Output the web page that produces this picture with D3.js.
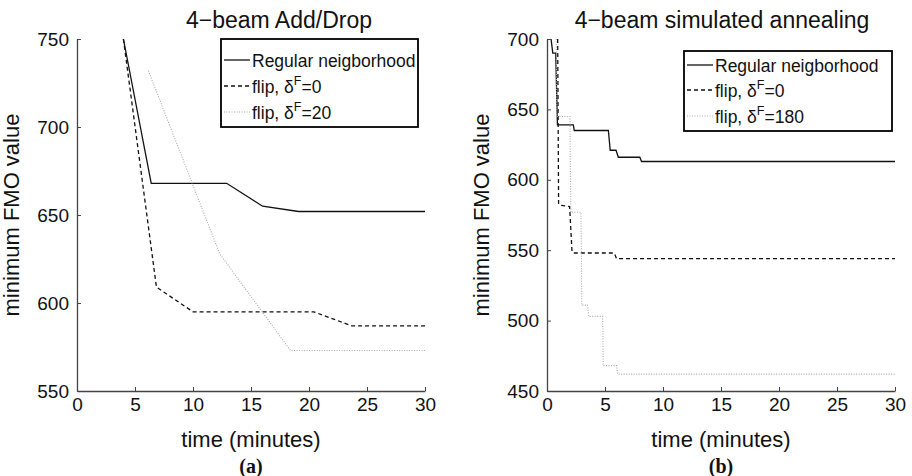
<!DOCTYPE html>
<html><head><meta charset="utf-8">
<script src="https://cdn.jsdelivr.net/npm/d3@7/dist/d3.min.js"></script>
<style>
body{margin:0;background:#fff;}
svg{display:block;font-family:"Liberation Sans",Arial,sans-serif;}
</style></head>
<body><svg id="c" width="912" height="476"></svg>
<script>
// ---- data ----
const xTicks = [0,5,10,15,20,25,30];
const leftYTicks = [550,600,650,700,750];
const rightYTicks = [450,500,550,600,650,700];
const leftTitle = "4\u2212beam Add/Drop";
const rightTitle = "4\u2212beam simulated annealing";
const yLabel = "minimum FMO value";
const xLabel = "time (minutes)";
const panelLabels = ["(a)","(b)"];
const legendMain = "Regular neigborhood";
const leftDeltas = ["0","20"];
const rightDeltas = ["0","180"];

// left: Add/Drop
const adRegularT = [4, 6.4, 12.9, 16.0, 19.1, 30];
const adRegularV = [750, 668, 668, 655, 652, 652];
const adFlip0T = [4, 6.85, 10.0, 20.4, 23.7, 30];
const adFlip0V = [750, 609, 595, 595, 587, 587];
const adFlip20T = [6.15, 12.3, 18.4, 30];
const adFlip20V = [732, 628, 573, 573];

// right: simulated annealing
const saRegularT = [0.35, 0.5, 0.75, 0.9, 2.27, 2.35, 5.29, 5.45, 5.95, 6.15, 8.0, 8.15, 30];
const saRegularV = [700, 690, 690, 639, 639, 635, 635, 621, 621, 616, 616, 613, 613];
const saFlip0T = [0.92, 1.0, 1.1, 1.95, 2.15, 2.25, 5.8, 6.0, 30];
const saFlip0V = [700, 583, 582, 581, 550, 548, 548, 544, 544];
const saFlip180T = [0.8, 0.85, 1.98, 2.05, 2.93, 3.0, 3.5, 3.6, 4.8, 4.85, 6.0, 6.1, 30];
const saFlip180V = [700, 645, 645, 577, 577, 511, 511, 503, 503, 468, 468, 462, 462];

const styles = [
  {stroke:"#111", dash:null, width:1.3},
  {stroke:"#111", dash:"4,3", width:1.3},
  {stroke:"#aaa", dash:"1,1.5", width:1.1}
];

const svg = d3.select("#c");

function panel(opt){
  const x = d3.scaleLinear().domain([0,30]).range([opt.x0, opt.x0+348]);
  const y = d3.scaleLinear().domain(opt.yDom).range([391, 39]);
  const g = svg.append("g");
  const line = d3.line().x(d=>x(d[0])).y(d=>y(d[1]));
  opt.series.forEach((s,i)=>{
    const pts = s.t.map((t,j)=>[t, s.v[j]]);
    g.append("path").attr("d", line(pts)).attr("fill","none")
      .attr("stroke", styles[i].stroke).attr("stroke-width", styles[i].width)
      .attr("stroke-dasharray", styles[i].dash);
  });
  // axes
  const ax = g.append("g").attr("transform",`translate(0,391)`)
    .call(d3.axisBottom(x).tickValues(xTicks).tickSizeInner(-4).tickSizeOuter(0).tickPadding(7));
  const ay = g.append("g").attr("transform",`translate(${opt.x0},0)`)
    .call(d3.axisLeft(y).tickValues(opt.yTicks).tickSizeInner(-4).tickSizeOuter(0).tickPadding(8));
  [ax,ay].forEach(a=>{
    a.select(".domain").attr("stroke","#444").attr("stroke-width",1.3);
    a.selectAll(".tick line").attr("stroke","#444");
    a.selectAll("text").attr("font-size",19).attr("fill","#111")
      .attr("font-family","Liberation Sans, Arial, sans-serif");
  });
  // title
  g.append("text").attr("x",opt.titleX).attr("y",28).attr("text-anchor","middle")
    .attr("font-size",23).attr("fill","#111").text(opt.title);
  // x label
  g.append("text").attr("x",x(15)).attr("y",447).attr("text-anchor","middle")
    .attr("font-size",22).attr("fill","#111").text(xLabel);
  // y label
  g.append("text").attr("transform",`translate(${opt.x0-58},215) rotate(-90)`)
    .attr("text-anchor","middle").attr("font-size",22).attr("fill","#111").text(yLabel);
  // panel label
  g.append("text").attr("x",x(15)).attr("y",473).attr("text-anchor","middle")
    .attr("font-size",20).attr("font-weight","bold").attr("fill","#111")
    .attr("font-family","Liberation Serif, Times New Roman, serif").text(opt.panel);
  // legend
  const L = opt.legend;
  const lg = g.append("g");
  lg.append("rect").attr("x",L.x).attr("y",L.y).attr("width",L.w).attr("height",L.h)
    .attr("fill","#fff").attr("stroke","#000").attr("stroke-width",1.8);
  const labels = [legendMain, ...opt.deltas];
  labels.forEach((lab,i)=>{
    const cy = L.y + L.rows[i];
    lg.append("line").attr("x1",L.x+3).attr("x2",L.x+29).attr("y1",cy).attr("y2",cy)
      .attr("stroke",styles[i].stroke).attr("stroke-width",styles[i].width)
      .attr("stroke-dasharray",styles[i].dash);
    const t = lg.append("text").attr("x",L.x+31).attr("y",cy+6.5).attr("font-size",17.5).attr("fill","#111");
    if(i===0){ t.text(lab); }
    else {
      t.append("tspan").text("flip, \u03b4");
      t.append("tspan").attr("dy",-8).attr("font-size",12.5).text("F");
      t.append("tspan").attr("dy",8).text("="+lab);
    }
  });
}

panel({x0:77, yDom:[550,750], yTicks:leftYTicks, title:leftTitle, titleX:279, panel:panelLabels[0],
  deltas:leftDeltas,
  series:[{t:adRegularT,v:adRegularV},{t:adFlip0T,v:adFlip0V},{t:adFlip20T,v:adFlip20V}],
  legend:{x:221,y:39,w:197,h:88,rows:[21,47,73]}});
panel({x0:547, yDom:[450,700], yTicks:rightYTicks, title:rightTitle, titleX:722, panel:panelLabels[1],
  deltas:rightDeltas,
  series:[{t:saRegularT,v:saRegularV},{t:saFlip0T,v:saFlip0V},{t:saFlip180T,v:saFlip180V}],
  legend:{x:684,y:51,w:208,h:80,rows:[14,39,65]}});
</script></body></html>
